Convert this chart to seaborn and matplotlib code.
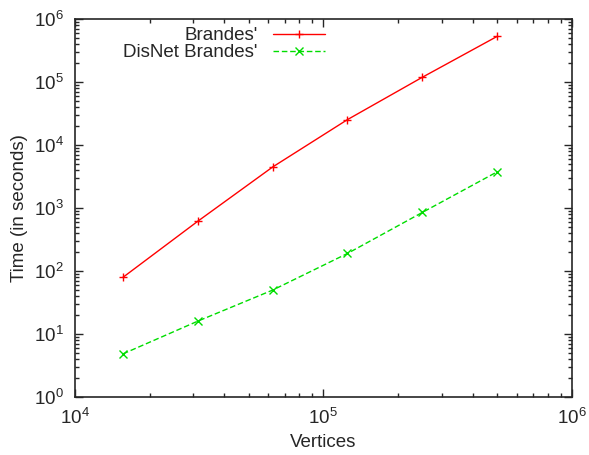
import numpy as np
import pandas as pd
import matplotlib
matplotlib.use('Agg')
import matplotlib.pyplot as plt
from matplotlib.ticker import NullFormatter
import seaborn as sns

# данные
vertices = [15625, 31250, 62500, 125000, 250000, 500000]
brandes = [79, 615, 4470, 25300, 119000, 531000]
disnet = [4.8, 15.9, 49.5, 189, 847, 3740]

df = pd.DataFrame({
    'Vertices': vertices * 2,
    'Time': brandes + disnet,
    'Method': ["Brandes'"] * 6 + ["DisNet Brandes'"] * 6,
})

sns.set_style('ticks')
plt.rcParams['font.family'] = ['Liberation Sans', 'DejaVu Sans']
fs = 13.5

fig = plt.figure(figsize=(5.89, 4.55), dpi=100)
ax = fig.add_axes([0.127, 0.128, 0.844, 0.830])

sns.lineplot(data=df, x='Vertices', y='Time', hue='Method', style='Method',
             palette=['#ff0000', '#00dd00'], dashes=[(None, None), (4, 2)],
             markers=['+', 'x'], markersize=6, markeredgewidth=1,
             linewidth=1, ax=ax)

# маркеры того же цвета, что и линии
for ln in ax.lines:
    ln.set_markeredgecolor(ln.get_color())

ax.set_xscale('log')
ax.set_yscale('log')
ax.set_xlim(1e4, 1e6)
ax.set_ylim(1e0, 1e6)
ax.xaxis.set_minor_formatter(NullFormatter())
ax.yaxis.set_minor_formatter(NullFormatter())
ax.set_xlabel('Vertices', fontsize=fs)
ax.set_ylabel('Time (in seconds)', fontsize=fs)

ax.tick_params(which='both', direction='in', top=True, right=True, labelsize=fs)
ax.tick_params(which='major', length=6, width=1, pad=8)
ax.tick_params(which='minor', length=3, width=1)
for s in ax.spines.values():
    s.set_linewidth(1.2)

leg = ax.legend(loc='upper right', bbox_to_anchor=(325 / 589, 1 - 27 / 455),
                bbox_transform=fig.transFigure, frameon=False, markerfirst=False,
                fontsize=fs, handlelength=2.8, handletextpad=0.8,
                labelspacing=0.0, borderaxespad=0, borderpad=0)
for ln in leg.get_lines():
    ln.set_markeredgecolor(ln.get_color())

fig.savefig('out.png', dpi=100)
